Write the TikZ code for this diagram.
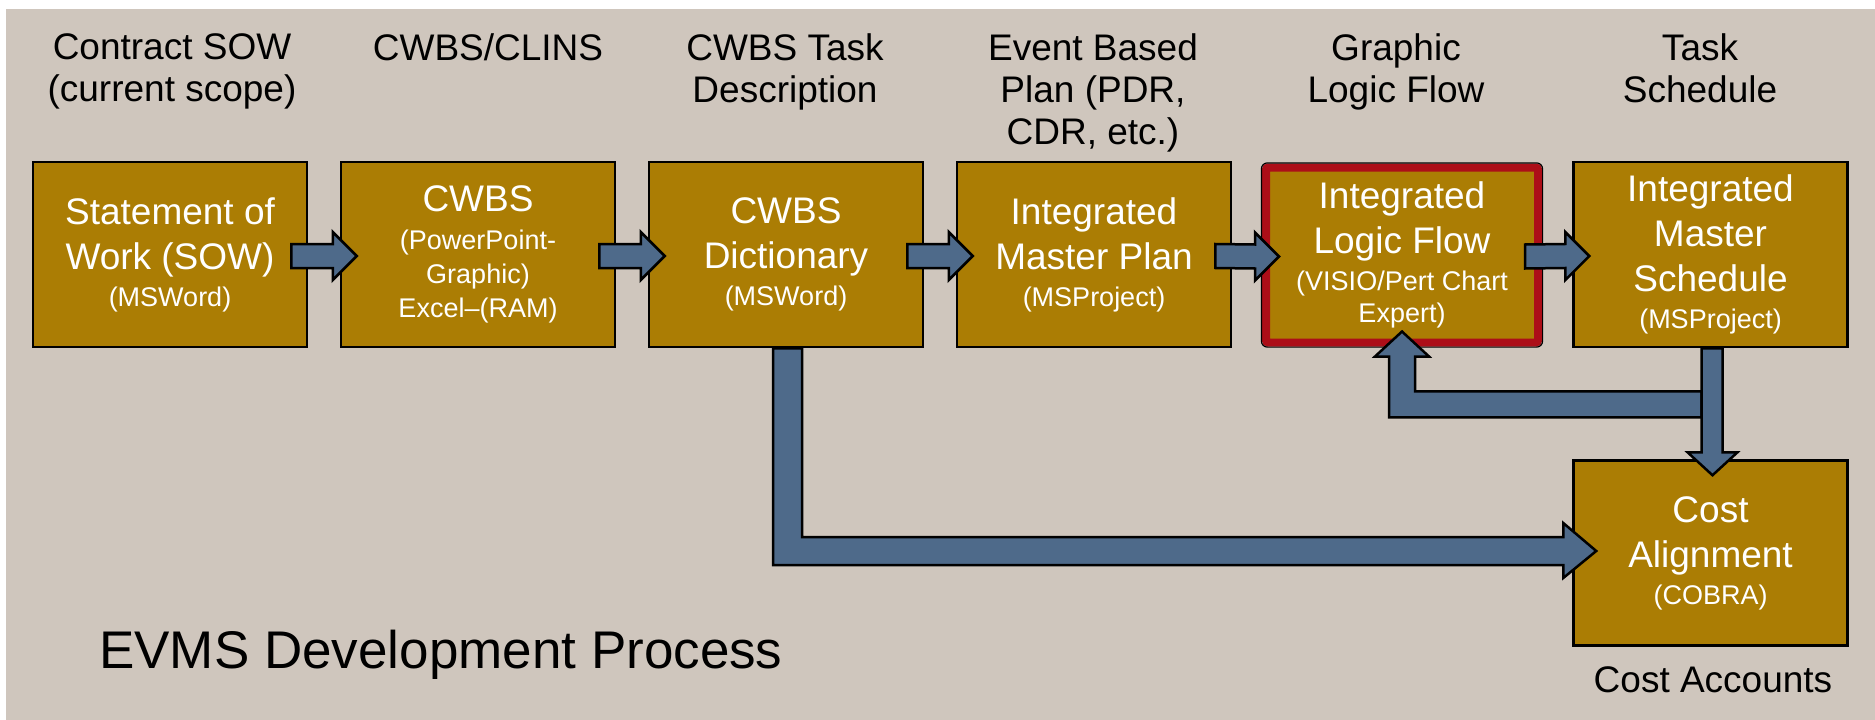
\documentclass[tikz,border=0pt]{standalone}
\usepackage{fontspec}
\setmainfont{Liberation Sans}
\usetikzlibrary{calc}
\definecolor{bgc}{RGB}{207,198,189}
\definecolor{gold}{RGB}{171,125,4}
\definecolor{arrblue}{RGB}{78,106,138}
\definecolor{boxred}{RGB}{172,14,24}
\newcommand\evbig{\fontsize{37}{45}\selectfont}
\newcommand\evsmall{\fontsize{27}{32}\selectfont}
\newcommand\evtitle{\fontsize{37}{42}\selectfont}
\newcommand\hflow[2]{\draw[flow] ($(#1.east)+(-17,-10.5)$) -- ($(#2.west)+(-7,-10.5)$) -- ($(#2.west)+(-7,-22.5)$) -- ($(#2.west)+(17,1.5)$) -- ($(#2.west)+(-7,25.5)$) -- ($(#2.west)+(-7,13.5)$) -- ($(#1.east)+(-17,13.5)$) -- cycle;}
\begin{document}
\begin{tikzpicture}[x=1pt,y=-1pt,
  procbox/.style={fill=gold, draw=black, line width=2.5pt, minimum width=274pt, minimum height=185pt, inner sep=0pt, align=center, text=white, font=\evbig},
  hilite/.style={procbox, draw=boxred, line width=8pt, minimum width=272pt, minimum height=175pt, rounded corners=2pt},
  coltitle/.style={anchor=north, align=center, font=\evtitle, inner sep=0pt, text=black},
  flow/.style={fill=arrblue, draw=black, line width=2.5pt, line join=miter}]
\useasboundingbox (0,0) rectangle (1875,720);
\fill[bgc] (6,9) rectangle (1875,720);
% column titles
\node[coltitle] (t1) at (172,33) {Contract SOW\\(current scope)};
\node[coltitle] (t2) at (488,33) {CWBS/CLINS};
\node[coltitle] (t3) at (785,33) {CWBS Task\\Description};
\node[coltitle] (t4) at (1093,33) {Event Based\\Plan (PDR,\\CDR, etc.)};
\node[coltitle] (t5) at (1396,33) {Graphic\\Logic Flow};
\node[coltitle] (t6) at (1700,33) {Task\\Schedule};
% process boxes
\node[procbox] (sow) at (170,254.5) {Statement of\\Work (SOW)\\[-8pt]{\evsmall (MSWord)}};
\node[procbox] (cwbs) at (478,254.5) {CWBS\\[-7pt]{\evsmall (PowerPoint-}\\[-11pt]{\evsmall Graphic)}\\[-11pt]{\evsmall Excel–(RAM)}};
\node[procbox] (dict) at (786,254.5) {CWBS\\Dictionary\\[-8pt]{\evsmall (MSWord)}};
\node[procbox] (imp) at (1094,254.5) {Integrated\\Master Plan\\[-8pt]{\evsmall (MSProject)}};
\node[hilite] (ilf) at (1402,255) {Integrated\\Logic Flow\\[-8pt]{\evsmall (VISIO/Pert Chart}\\[-13pt]{\evsmall Expert)}};
\draw[black, line width=1.2pt, rounded corners=6pt] ($(ilf.north west)+(-0.6,-0.6)$) rectangle ($(ilf.south east)+(0.6,0.6)$);
\node[procbox] (ims) at (1710.5,254.5) {Integrated\\Master\\Schedule\\[-8pt]{\evsmall (MSProject)}};
\node[procbox] (cost) at (1710.5,553) {Cost\\Alignment\\[-8pt]{\evsmall (COBRA)}};
% texts
\node[anchor=base west, font=\fontsize{53}{60}\selectfont, inner sep=0pt] (ttl) at (99,668) {EVMS Development Process};
\node[anchor=base, font=\evtitle, inner sep=0pt] (ca) at (1713,692) {Cost Accounts};
% flow arrows
\hflow{sow}{cwbs}
\hflow{cwbs}{dict}
\hflow{dict}{imp}
\hflow{imp}{ilf}
\hflow{ilf}{ims}
\draw[flow] ($(ims.south)+(-9,43)$) -| ($(ilf.south)+(13,10)$) -- ($(ilf.south)+(27,10)$) -- ($(ilf.south)+(0,-15)$) -- ($(ilf.south)+(-27,10)$) -- ($(ilf.south)+(-13,10)$) |- ($(ims.south)+(-9,69)$) -- cycle;
\draw[flow] ($(ims.south)+(-9,0)$) -- ($(cost.north)+(-9,-7)$) -- ($(cost.north)+(-23,-7)$) -- ($(cost.north)+(2,16)$) -- ($(cost.north)+(27,-7)$) -- ($(cost.north)+(12,-7)$) -- ($(ims.south)+(12,0)$) -- cycle;
\draw[flow] ($(dict.south)+(-13,0)$) |- ($(cost.west)+(-9,12)$) -- ($(cost.west)+(-9,25)$) -- ($(cost.west)+(24,-2)$) -- ($(cost.west)+(-9,-30)$) -- ($(cost.west)+(-9,-16)$) -| ($(dict.south)+(16,0)$) -- cycle;
\end{tikzpicture}
\end{document}
